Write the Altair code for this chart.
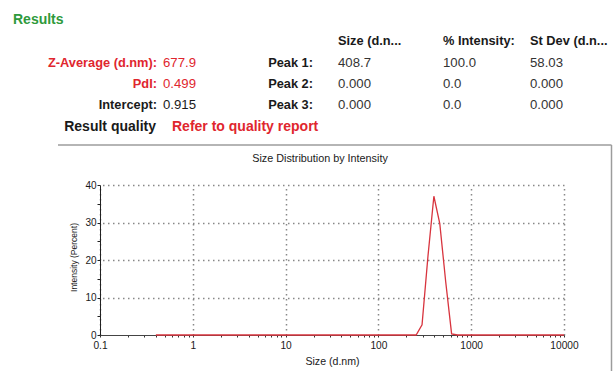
import altair as alt
import pandas as pd

# Size classes (d.nm) and intensity distribution (%)
sizes = [0.4000, 0.4632, 0.5365, 0.6213, 0.7195, 0.8332, 0.9649,
         1.117, 1.294, 1.499, 1.736, 2.010, 2.328, 2.696, 3.122, 3.615,
         4.187, 4.849, 5.615, 6.503, 7.531, 8.721,
         10.10, 11.70, 13.54, 15.69, 18.17, 21.04, 24.36, 28.21, 32.67,
         37.84, 43.82, 50.75, 58.77, 68.06, 78.82, 91.28,
         105.7, 122.4, 141.8, 164.2, 190.1, 220.2, 255.0, 295.3, 342.0,
         396.1, 458.7, 531.2, 615.1, 712.4, 825.0, 955.4,
         1106, 1281, 1484, 1718, 1990, 2305, 2669, 3091, 3580, 4145,
         4801, 5560, 6439, 7456, 8635, 10000]
intensity = [0, 0, 0, 0, 0, 0, 0,
             0, 0, 0, 0, 0, 0, 0, 0, 0,
             0, 0, 0, 0, 0, 0,
             0, 0, 0, 0, 0, 0, 0, 0, 0,
             0, 0, 0, 0, 0, 0, 0,
             0, 0, 0, 0, 0, 0, 0, 2.7, 21.0,
             37.0, 29.7, 14.2, 0.3, 0, 0, 0,
             0, 0, 0, 0, 0, 0, 0, 0, 0, 0,
             0, 0, 0, 0, 0, 0]

# Axis tick values
x_major = [0.1, 1, 10, 100, 1000, 10000]
x_minor = [0.2, 0.3, 0.4, 0.5, 0.6, 0.7, 0.8, 0.9,
           2, 3, 4, 5, 6, 7, 8, 9,
           20, 30, 40, 50, 60, 70, 80, 90,
           200, 300, 400, 500, 600, 700, 800, 900,
           2000, 3000, 4000, 5000, 6000, 7000, 8000, 9000]
y_major = [0, 10, 20, 30, 40]
y_minor = [5, 15, 25, 35]

# Results table text
results_heading = "Results"
summary_labels = ["Z-Average (d.nm):", "PdI:", "Intercept:"]
summary_values = ["677.9", "0.499", "0.915"]
quality_label = "Result quality"
quality_value = "Refer to quality report"
peak_labels = ["Peak 1:", "Peak 2:", "Peak 3:"]
peak_headers = ["Size (d.n...", "% Intensity:", "St Dev (d.n..."]
peak_size = ["408.7", "0.000", "0.000"]
peak_intensity = ["100.0", "0.0", "0.0"]
peak_stdev = ["58.03", "0.000", "0.000"]
chart_title = "Size Distribution by Intensity"

FONT = "Liberation Sans"
RED = "#e0262e"
GREEN = "#2e9a3c"
DARK = "#1a1a1a"
VALUE = "#333333"

# plot-area origin inside the 614x371 canvas
OX, OY = 100, 185
W, H = 464, 150

df = pd.DataFrame({"size": sizes, "intensity": intensity})
xscale = alt.Scale(type="log", domain=[0.1, 10000])
yscale = alt.Scale(domain=[0, 40])


def label(text, x, y, color=DARK, bold=False, align="left", size=12.8):
    return alt.Chart(pd.DataFrame({"t": [text]})).mark_text(
        align=align, baseline="middle", font=FONT, fontSize=size,
        fontWeight="bold" if bold else "normal", color=color
    ).encode(x=alt.value(x - OX), y=alt.value(y - OY), text="t:N")


# dotted grid (its own axes, everything but the grid hidden)
grid = alt.Chart(df).mark_line(strokeOpacity=0).encode(
    x=alt.X("size:Q", scale=xscale, axis=alt.Axis(
        orient="top", values=x_major, grid=True, gridColor="#888888",
        gridDash=[1.5, 3.5], gridWidth=1.5, labels=False, ticks=False,
        domain=False, title=None)),
    y=alt.Y("intensity:Q", scale=yscale, axis=alt.Axis(
        orient="right", values=y_major[1:], grid=True, gridColor="#888888",
        gridDash=[1.5, 3.5], gridWidth=1.5, labels=False, ticks=False,
        domain=False, title=None)),
)

decade_expr = ("abs(log(datum.value)/LN10 - round(log(datum.value)/LN10)) < 1e-6"
               " ? format(datum.value, '~g') : ''")

line = alt.Chart(df).mark_line(color="#d8343e", strokeWidth=1.3).encode(
    x=alt.X("size:Q", scale=xscale, axis=alt.Axis(
        orient="bottom", values=x_major + x_minor, labelExpr=decade_expr,
        grid=False, tickSize=2, tickColor="#333", domainColor="#444",
        labelFont=FONT, labelFontSize=10.2, labelColor=DARK, labelPadding=3,
        labelFlush=False, labelOverlap=False,
        title="Size (d.nm)", titleFont=FONT, titleFontSize=10.6,
        titleFontWeight="normal", titleColor=DARK,
        titleX=232, titleY=26, titleBaseline="middle")),
    y=alt.Y("intensity:Q", scale=yscale, axis=alt.Axis(
        orient="left", values=y_major + y_minor,
        labelExpr="datum.value % 10 === 0 ? datum.label : ''",
        grid=False, tickSize=3, tickColor="#222", domainColor="#222",
        labelFont=FONT, labelFontSize=10, labelColor=DARK, labelPadding=1,
        labelFlush=False, labelOverlap=False,
        title="Intensity (Percent)", titleFont=FONT, titleFontSize=8.5,
        titleFontWeight="normal", titleColor=DARK, titleAngle=-90,
        titleX=-27, titleY=72, titleAlign="center", titleBaseline="middle")),
)

# frame around the plot panel
frame_top = alt.Chart(pd.DataFrame({"k": [0]})).mark_rule(
    color="#9c9c9c", strokeWidth=1.5
).encode(x=alt.value(58 - OX), x2=alt.value(611.5 - OX), y=alt.value(145 - OY))
frame_right = alt.Chart(pd.DataFrame({"k": [0]})).mark_rule(
    color="#9c9c9c", strokeWidth=1.5
).encode(x=alt.value(611.5 - OX), y=alt.value(145 - OY), y2=alt.value(372 - OY))

texts = [label(results_heading, 13, 20, color=GREEN, bold=True, size=14),
         label(chart_title, 320, 159, size=10.8, align="center")]

row_y = [63, 84, 105]
summary_colors = [RED, RED, DARK]
for i in range(3):
    texts.append(label(summary_labels[i], 157, row_y[i], color=summary_colors[i],
                       bold=True, align="right"))
    texts.append(label(summary_values[i], 163, row_y[i], color=summary_colors[i],
                       size=13.2))
    texts.append(label(peak_labels[i], 313, row_y[i], bold=True, align="right"))
    texts.append(label(peak_size[i], 338, row_y[i], color=VALUE, size=13.2))
    texts.append(label(peak_intensity[i], 443, row_y[i], color=VALUE, size=13.2))
    texts.append(label(peak_stdev[i], 530, row_y[i], color=VALUE, size=13.2))

for hx, h in zip([338, 443, 530], peak_headers):
    texts.append(label(h, hx, 41, bold=True))

texts.append(label(quality_label, 156, 127, bold=True, align="right", size=14))
texts.append(label(quality_value, 172, 127, color=RED, bold=True, size=14))

chart = alt.layer(grid, line, frame_top, frame_right, *texts).resolve_axis(
    x="independent", y="independent"
).properties(
    width=W, height=H,
    padding={"left": OX, "top": OY, "right": 614 - OX - W, "bottom": 371 - OY - H},
    autosize=alt.AutoSizeParams(type="none"),
    background="white",
).configure_view(stroke=None)

chart.save("out.html", embed_options={"renderer": "svg", "actions": False})
